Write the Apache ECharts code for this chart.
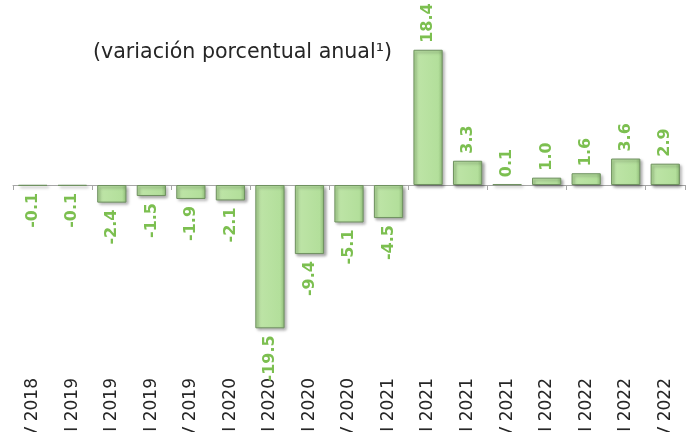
<!DOCTYPE html>
<html>
<head>
<meta charset="utf-8">
<script src="https://cdn.jsdelivr.net/npm/echarts@6/dist/echarts.min.js"></script>
<style>
  html, body { margin: 0; padding: 0; background: #fff; }
  #chart { width: 694px; height: 432px; }
</style>
</head>
<body>
<div id="chart"></div>
<script>
// trimestres y variación porcentual anual
const quarters = ["IV 2018", "I 2019", "II 2019", "III 2019", "IV 2019", "I 2020", "II 2020", "III 2020", "IV 2020",
  "I 2021", "II 2021", "III 2021", "IV 2021", "I 2022", "II 2022", "III 2022", "IV 2022"];
const values = [-0.1, -0.1, -2.4, -1.5, -1.9, -2.1, -19.5, -9.4, -5.1, -4.5, 18.4, 3.3, 0.1, 1.0, 1.6, 3.6, 2.9];

const font = "DejaVu Sans";
const green = "#7cbf50";

let myChart = echarts.init(document.getElementById("chart"));
myChart.setOption({
  animation: false,
  title: {
    text: "(variación porcentual anual¹)",
    left: 88,
    top: 37,
    textStyle: { fontFamily: font, fontWeight: "normal", fontSize: 20.6, color: "#262626" },
  },
  // sin ajuste automático: las etiquetas se cortan en el borde como en el original
  grid: { left: 13, right: 9, top: 38, bottom: 100, containLabel: false, outerBoundsMode: "none" },
  xAxis: [
    {
      // línea del cero con marcas
      type: "category",
      data: quarters,
      axisLine: { onZero: true, lineStyle: { color: "#a6a6a6", width: 1 } },
      axisTick: { show: true, length: 5, lineStyle: { color: "#a6a6a6" } },
      axisLabel: { show: false },
    },
    {
      // etiquetas abajo
      type: "category",
      data: quarters,
      position: "bottom",
      axisLine: { show: false, onZero: false },
      axisTick: { show: false },
      axisLabel: {
        rotate: 90,
        margin: 46,
        interval: 0,
        fontFamily: font,
        fontSize: 17,
        color: "#262626",
      },
    },
  ],
  yAxis: {
    type: "value",
    min: -20,
    max: 20,
    show: false,
    splitLine: { show: false },
  },
  series: [
    {
      type: "bar",
      barCategoryGap: "26%",
      data: values.map((v) => ({
        value: v,
        label: {
          position: v < 0 ? "bottom" : "top",
          align: v < 0 ? "right" : "left",
        },
      })),
      itemStyle: {
        color: {
          type: "linear", x: 0, y: 0, x2: 1, y2: 0,
          colorStops: [
            { offset: 0, color: "#a9d690" },
            { offset: 0.15, color: "#bde4a6" },
            { offset: 0.85, color: "#b3df9b" },
            { offset: 1, color: "#8fbb78" },
          ],
        },
        borderColor: "#6f9160",
        borderWidth: 1,
        shadowColor: "rgba(0,0,0,0.35)",
        shadowBlur: 3,
        shadowOffsetX: 2,
        shadowOffsetY: 2,
      },
      label: {
        show: true,
        rotate: 90,
        distance: 7,
        verticalAlign: "middle",
        fontFamily: font,
        fontWeight: "bold",
        fontSize: 16,
        color: green,
        formatter: (p) => p.value.toFixed(1),
      },
    },
  ],
});
</script>
</body>
</html>
